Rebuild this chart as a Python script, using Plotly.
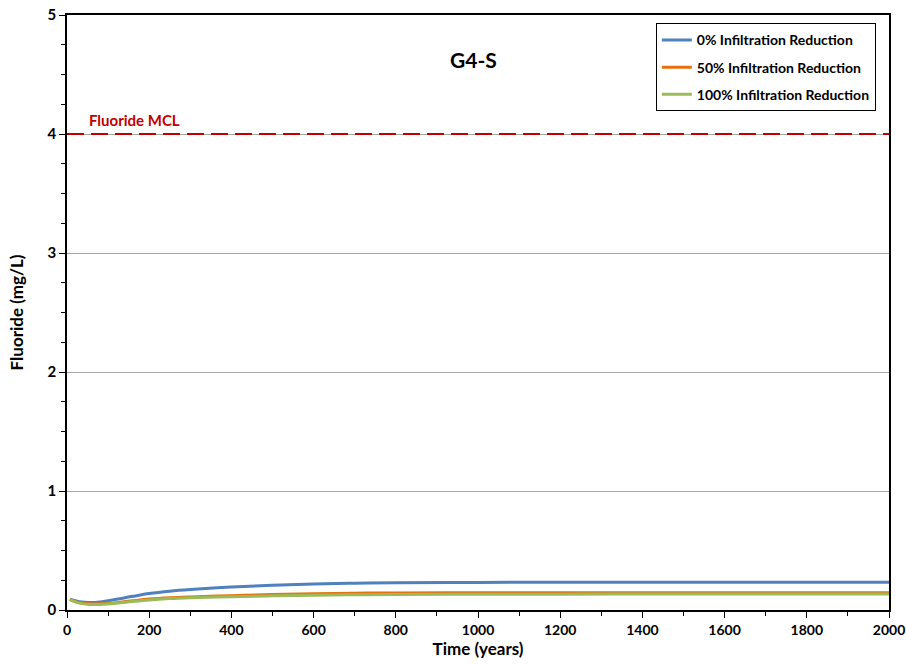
import plotly.graph_objects as go

time_years = [7, 30, 55, 80, 120, 160, 200, 250, 300, 400, 500, 600, 700, 800, 1000, 1200, 1400, 1600, 1800, 2000]
red_0 = [0.09, 0.07, 0.063, 0.068, 0.09, 0.115, 0.138, 0.158, 0.172, 0.193, 0.208, 0.219, 0.225, 0.229, 0.232, 0.233, 0.234, 0.234, 0.234, 0.234]
red_50 = [0.09, 0.062, 0.052, 0.052, 0.062, 0.078, 0.092, 0.103, 0.11, 0.12, 0.13, 0.137, 0.141, 0.143, 0.145, 0.146, 0.146, 0.146, 0.146, 0.146]
red_100 = [0.088, 0.058, 0.047, 0.047, 0.057, 0.072, 0.085, 0.096, 0.103, 0.112, 0.119, 0.125, 0.128, 0.130, 0.132, 0.133, 0.134, 0.134, 0.134, 0.134]
series_names = ["0% Infiltration Reduction", "50% Infiltration Reduction", "100% Infiltration Reduction"]
series_colors = ["#4F81BD", "#E8700E", "#9BBB59"]
mcl_value = 4
mcl_x = [0, 2000]

FONT = "Lato"
fig = go.Figure()

fig.add_trace(go.Scatter(x=mcl_x, y=[mcl_value, mcl_value], mode="lines",
                         line=dict(color="#C00000", width=2, dash="17px,7px"),
                         showlegend=False, hoverinfo="skip"))

for i, (name, vals, col) in enumerate(zip(series_names, [red_0, red_50, red_100], series_colors)):
    fig.add_trace(go.Scatter(x=time_years, y=vals, mode="lines", name=name,
                             legendgroup=f"g{i}",
                             line=dict(color=col, width=3, shape="spline")))

fig.update_layout(
    width=906, height=664,
    margin=dict(l=67, r=17, t=15, b=54, autoexpand=False),
    plot_bgcolor="white", paper_bgcolor="white",
    font=dict(family=FONT, size=13, color="black"),
    legend=dict(x=0.984, y=0.986, xanchor="right", yanchor="top",
                bordercolor="black", borderwidth=1, bgcolor="white",
                font=dict(family=FONT, size=14, color="black", weight="bold"),
                tracegroupgap=6, itemwidth=30),
    xaxis=dict(range=[0, 2000], tickvals=list(range(0, 2001, 200)), automargin=False,
               showline=True, linecolor="black", linewidth=1.5, mirror=True,
               ticks="outside", ticklen=6, tickcolor="black",
               showgrid=False, zeroline=False,
               tickfont=dict(family=FONT, size=14, color="black", weight="bold"),
               minor=dict(dtick=100, ticks="outside", ticklen=4, tickcolor="black", showgrid=False),
               title=dict(text="<b>Time (years)</b>", font=dict(family=FONT, size=17), standoff=6)),
    yaxis=dict(range=[0, 5], tickvals=[0, 1, 2, 3, 4, 5], automargin=False,
               showline=True, linecolor="black", linewidth=1.5, mirror=True,
               ticks="outside", ticklen=6, tickcolor="black",
               showgrid=True, gridcolor="#A6A6A6", gridwidth=1, zeroline=False,
               tickfont=dict(family=FONT, size=15, color="black", weight="bold"),
               minor=dict(dtick=0.25, ticks="outside", ticklen=4, tickcolor="black", showgrid=False),
               title=dict(text="<b>Fluoride (mg/L)</b>", font=dict(family=FONT, size=17), standoff=20)),
    annotations=[
        dict(text="<b>G4-S</b>", x=473, y=45, xref="x", yref="paper", showarrow=False,
             font=dict(family=FONT, size=21, color="black")),
        dict(text="<b>Fluoride MCL</b>", x=49, y=mcl_value, xref="x", yref="y",
             xanchor="left", yanchor="bottom", yshift=3, showarrow=False,
             font=dict(family=FONT, size=15, color="#C00000")),
    ],
)
fig.layout.annotations[0].update(x=(473 - 67) / 822 * 2000, y=(610 - 45) / 595)

fig.write_html("out.html", config={"displayModeBar": False},
               post_script="document.body.style.margin='0';")
